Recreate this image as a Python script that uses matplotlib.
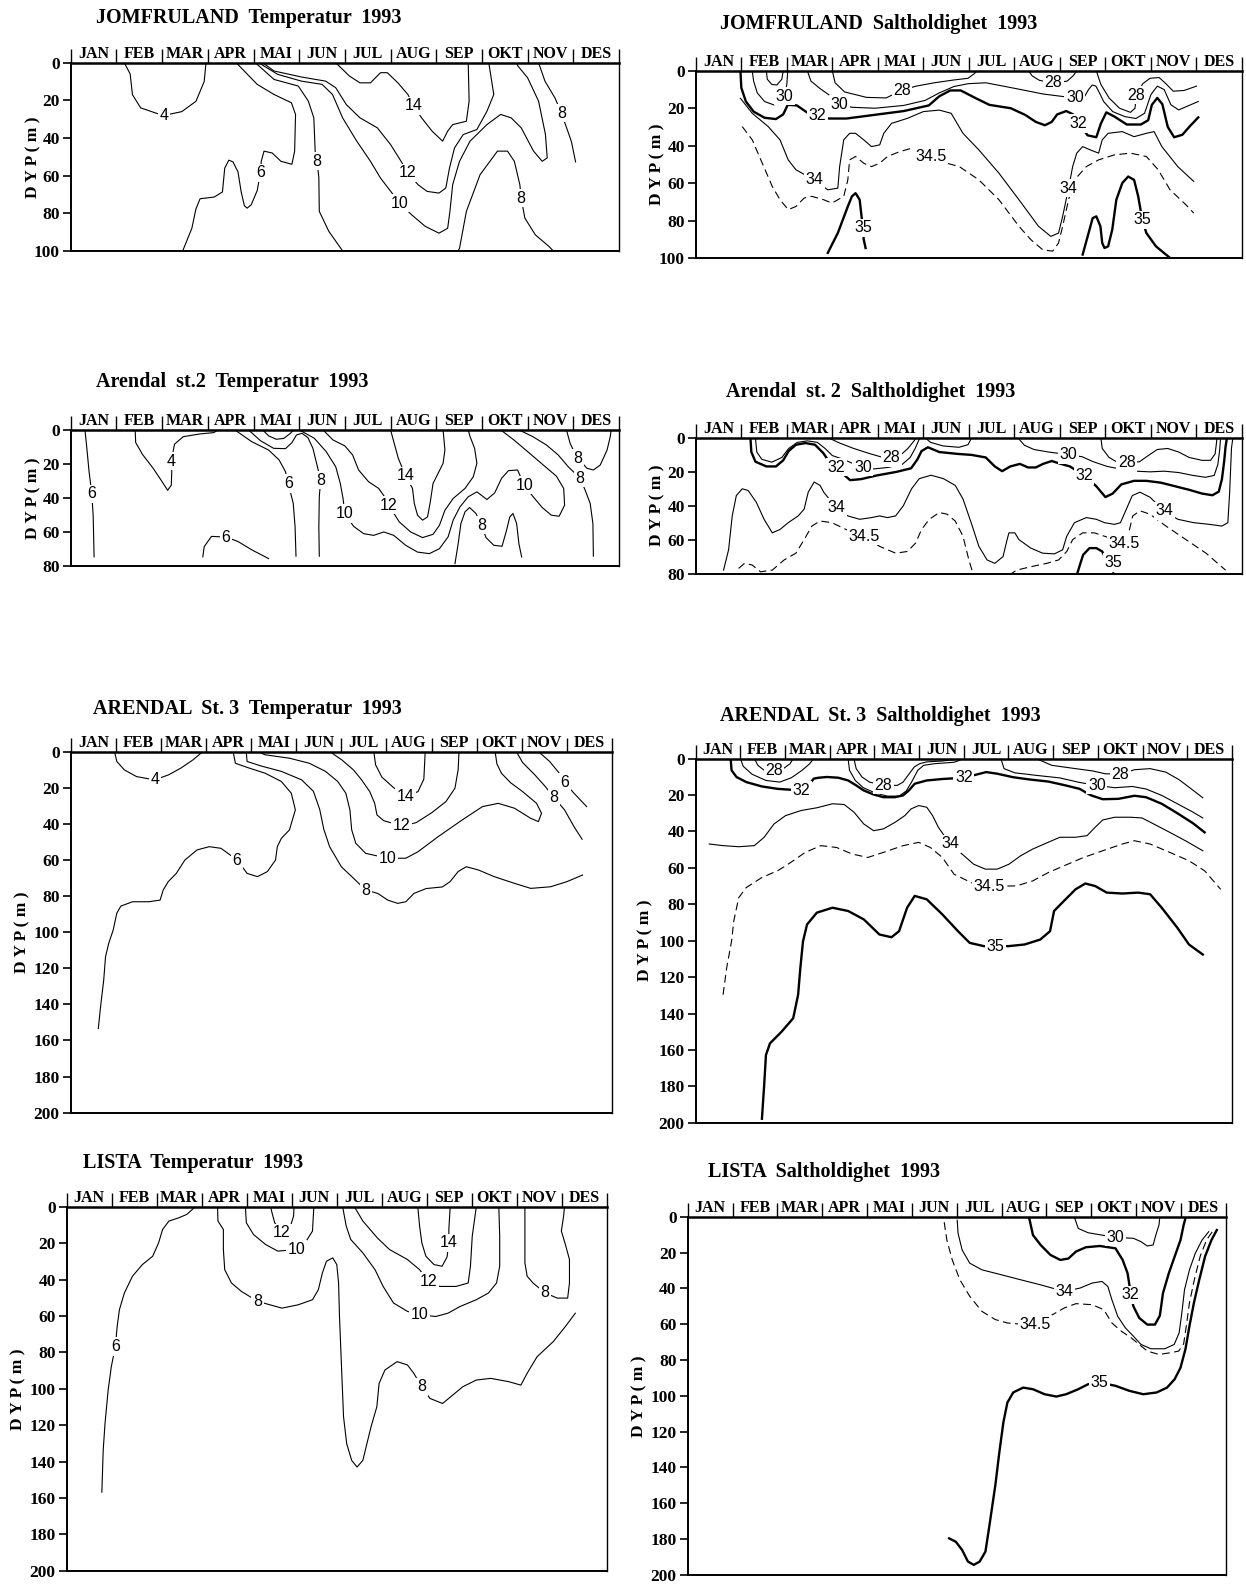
import matplotlib
matplotlib.use("Agg")
import matplotlib.pyplot as plt
import numpy as np

MONTHS = ["JAN", "FEB", "MAR", "APR", "MAI", "JUN", "JUL", "AUG", "SEP", "OKT", "NOV", "DES"]

# ---------------- Panel 1: JOMFRULAND Temperatur (m = month 0..12, d = depth m) -------------
JT_4_m = [1.17, 1.30, 1.35, 1.53, 1.89, 2.04, 2.43, 2.74, 2.92, 2.96]
JT_4_d = [0, 6, 17, 24, 27, 28, 26, 20.5, 10, 0]
JT_6_m = [2.45, 2.65, 2.74, 2.83, 3.14, 3.32, 3.37, 3.46, 3.55, 3.66, 3.73, 3.80, 3.86, 3.95, 4.08,
          4.15, 4.17, 4.23, 4.41, 4.60, 4.84, 4.90, 4.92, 4.83, 4.45, 4.08, 3.62]
JT_6_d = [100, 88, 77.7, 72.3, 71.4, 68.7, 56, 51.8, 52.7, 58, 68.7, 76, 77.3, 75.5, 68,
          58.6, 52.4, 47, 48, 52.4, 54, 47, 27.5, 21.3, 16.9, 11.5, 0]
JT_8a_m = [4.04, 4.45, 4.98, 5.2, 5.32, 5.35, 5.39, 5.43, 5.44, 5.65, 5.95]
JT_8a_d = [0, 8.9, 12.4, 20.4, 29.3, 47, 52.4, 61, 79, 89.7, 100]
JT_10_m = [4.11, 4.53, 5.05, 5.5, 5.73, 5.95, 6.26, 6.56, 6.78, 7.2, 7.46, 7.76, 8.06, 8.25, 8.3,
           8.36, 8.51, 8.74, 9.11, 9.41, 9.64, 9.86, 10.13, 10.32, 10.43, 10.39, 10.24, 10.0, 9.79, 9.75]
JT_10_d = [0, 6.2, 9.8, 11.5, 16.9, 29.3, 41.7, 52.4, 61.3, 74.6, 80.8, 87, 90.6, 88, 79,
           64.8, 52.4, 41.7, 32.9, 27.5, 29.3, 34.6, 47, 52.4, 50.6, 38, 20.4, 8, 1.8, 0]
JT_12_m = [4.2, 4.45, 5.05, 5.58, 5.8, 6.03, 6.33, 6.71, 7.0, 7.23, 7.38, 7.6, 7.8, 8.06, 8.21,
           8.29, 8.4, 8.59, 8.89, 9.11, 9.26, 9.15]
JT_12_d = [0, 4.4, 7.6, 9.8, 13.3, 22.2, 29.3, 34.6, 43.5, 52.4, 58.6, 64.8, 68.4, 69.3, 66.6,
           56, 45.3, 38.2, 35.5, 25.8, 16.9, 0]
JT_14_m = [5.8, 6.1, 6.33, 6.56, 6.78, 6.93, 7.16, 7.38, 7.5, 7.68, 7.91, 8.14, 8.25, 8.36, 8.66, 8.72, 8.7]
JT_14_d = [0, 7.1, 10.7, 10.7, 5.3, 5.3, 10.7, 16.9, 23, 29.3, 36.4, 41.7, 36.4, 32.9, 31.1, 20.4, 0]
JT_8b_m = [8.48, 8.51, 8.66, 8.96, 9.34, 9.56, 9.71, 9.83, 9.86, 9.94, 10.17, 10.47, 10.56]
JT_8b_d = [100, 98.6, 79, 59.5, 47, 47, 52.4, 64.8, 72, 82.6, 91.5, 97.7, 100]
JT_8c_m = [10.24, 10.38, 10.6, 10.74, 10.87, 10.96, 11.05]
JT_8c_d = [0, 9.8, 18.75, 26.8, 35.7, 42, 52.7]
JT_LABELS = [("4", 2.04, 28), ("6", 4.15, 58.6), ("8", 5.39, 52.4), ("10", 7.2, 74.6),
             ("12", 7.38, 58.6), ("14", 7.5, 23), ("8", 9.86, 72), ("8", 10.74, 26.8)]

# ---------------- Panel 2: JOMFRULAND Saltholdighet ----------------
JS_28a_m = [1.55, 1.57, 1.67, 1.78, 1.89, 1.92]
JS_28a_d = [0, 4.5, 7.3, 7.6, 4.5, 0]
JS_30a_m = [1.24, 1.27, 1.35, 1.51, 1.71, 1.86, 1.94, 2.0, 2.02]
JS_30a_d = [0, 5.5, 11.8, 16.4, 18.2, 17.3, 13.6, 7.3, 0]
JS_32_m = [0.98, 1.0, 1.1, 1.27, 1.51, 1.76, 1.92, 2.02, 2.22, 2.44, 2.67, 2.92, 3.31, 3.94, 4.57,
           5.12, 5.35, 5.59, 5.82, 6.14, 6.45, 6.92, 7.24, 7.47, 7.67, 7.82, 7.94, 8.14, 8.29, 8.41,
           8.61, 8.8, 8.9, 9.02, 9.2, 9.47, 9.78, 9.94, 10.02, 10.14, 10.25, 10.37, 10.51, 10.69, 10.86, 11.04]
JS_32_d = [0, 9.1, 16.4, 21.8, 25.1, 25.8, 23.3, 18.2, 18.5, 22.2, 24, 25.5, 25.5, 23.5, 21.5,
           18.5, 13.6, 10.5, 10.5, 14.5, 18.2, 20, 23.6, 27.3, 29.1, 27.3, 23.3, 21.5, 23.3, 28.2,
           34.5, 35.5, 28.2, 22.2, 24.5, 28.7, 28.7, 26.4, 18.2, 14.5, 17.8, 30, 35.5, 34.2, 29.5, 24.9]
JS_30b_m = [2.45, 2.53, 2.73, 2.94, 3.16, 3.43, 3.94, 4.57, 5.04, 5.35, 5.67, 5.98, 6.37, 6.76, 7.24,
            7.63, 8.02, 8.33, 8.53, 8.63, 8.71, 8.79, 8.87, 8.96, 9.16, 9.43, 9.67, 9.86, 10.0, 10.14,
            10.29, 10.44, 10.61, 10.84, 11.04]
JS_30b_d = [0, 5.5, 9.5, 13.1, 17.8, 19.5, 20, 18.5, 15.8, 11.8, 8.4, 6.9, 6.4, 8.2, 10.5,
            12.4, 13.6, 14.5, 14.2, 10, 7.6, 8.2, 11.8, 16.4, 21.8, 24.5, 25.5, 22.7, 12.7, 8.2,
            10, 18.2, 20.9, 18.5, 16.4]
JS_28b_m = [3.0, 3.06, 3.27, 3.75, 4.18, 4.53, 4.84, 5.24, 5.67, 5.98, 6.12, 6.18]
JS_28b_d = [0, 6.4, 11.3, 14.2, 14.5, 10.4, 8.2, 6.4, 4.9, 4, 1.5, 0]
JS_28c_m = [7.31, 7.39, 7.55, 7.86, 8.16, 8.29, 8.37]
JS_28c_d = [0, 2.7, 5.1, 6.5, 5.5, 2.7, 0]
JS_28d_m = [8.8, 8.9, 9.08, 9.31, 9.55, 9.65, 9.68, 9.82, 9.98, 10.18, 10.33, 10.49, 10.73, 11.0]
JS_28d_d = [0, 7.3, 14.5, 20, 22.2, 20, 13.1, 6.9, 4, 3.6, 6.9, 10.9, 10.5, 8.2]
JS_34_m = [0.98, 1.24, 1.59, 1.85, 2.03, 2.2, 2.6, 2.9, 3.12, 3.16, 3.25, 3.38, 3.51, 3.69, 3.86,
           4.04, 4.13, 4.3, 4.65, 5.0, 5.35, 5.61, 5.87, 6.22, 6.66, 7.1, 7.53, 7.8, 7.97, 8.06,
           8.19, 8.28, 8.37, 8.5, 8.67, 8.85, 8.93, 9.06, 9.37, 9.63, 9.9, 10.07, 10.24, 10.59, 10.94]
JS_34_d = [14.7, 22.7, 29.8, 36.9, 47.6, 52.9, 58.3, 63.6, 62.7, 51.2, 36.9, 33.4, 33.4, 36.9, 40.5,
           39.6, 33.4, 28.1, 25.4, 21.8, 21, 22.7, 33.4, 42.3, 54.7, 68.9, 83.1, 88.5, 86.7, 77.8,
           62.7, 51.2, 44, 40.5, 42.3, 44, 36.9, 33.4, 32.5, 35.2, 33.4, 32.5, 40.5, 51.2, 59.1]
JS_345_m = [1.02, 1.24, 1.46, 1.68, 1.85, 2.03, 2.2, 2.38, 2.55, 2.81, 2.99, 3.25, 3.34, 3.38, 3.51,
            3.69, 3.86, 4.04, 4.21, 4.48, 4.74, 5.17, 5.52, 5.79, 6.22, 6.66, 7.1, 7.36, 7.62, 7.84,
            7.97, 8.06, 8.19, 8.32, 8.58, 8.85, 9.2, 9.55, 9.9, 10.16, 10.42, 10.77, 10.94]
JS_345_d = [29.8, 36.9, 49.4, 61.8, 68.9, 74.2, 72.5, 68, 67.1, 68.9, 70.7, 67.1, 58.3, 47.6, 45.8,
            49.4, 51.2, 49.4, 45.8, 43.2, 41.4, 45.8, 49.4, 51.2, 58.3, 68.9, 83.1, 90.2, 95.6, 96.4,
            92, 83.1, 68.9, 58.3, 51.2, 47.6, 44.9, 44, 45.8, 52.9, 63.6, 71.6, 76]
JS_35a_m = [2.9, 3.12, 3.34, 3.43, 3.51, 3.6, 3.65, 3.69, 3.73]
JS_35a_d = [97.3, 86.7, 72.5, 67.1, 65.4, 68.9, 79.6, 90.2, 94.7]
JS_35b_m = [8.5, 8.63, 8.72, 8.8, 8.89, 8.93, 8.98, 9.06, 9.15, 9.24, 9.37, 9.5, 9.63, 9.72, 9.81, 9.9, 10.11, 10.42]
JS_35b_d = [98.2, 86.7, 78.7, 77.8, 83.1, 92, 94.7, 93.8, 84.9, 68.9, 60, 56.5, 58.3, 67.1, 79.6, 86.7, 93.8, 100]
JS_LABELS = [("30", 1.94, 13.6), ("32", 2.67, 24), ("30", 3.16, 17.8), ("28", 4.53, 10.4),
             ("34.5", 5.17, 45.8), ("34", 2.6, 58.3), ("35", 3.67, 84), ("28", 7.86, 6.5),
             ("30", 8.33, 14.5), ("32", 8.41, 28.2), ("28", 9.68, 13.1), ("34", 8.19, 62.7),
             ("35", 9.81, 79.6)]

# ---------------- Panel 3: Arendal st.2 Temperatur ----------------
A2T_6a_m = [0.31, 0.35, 0.4, 0.46, 0.49, 0.51]
A2T_6a_d = [0, 10.4, 24.4, 37.4, 50.4, 74.4]
A2T_4_m = [1.41, 1.42, 1.57, 1.8, 2.0, 2.12, 2.2, 2.21, 2.2, 2.27, 2.46, 2.82, 3.13, 3.22]
A2T_4_d = [0, 7.4, 14.4, 22.4, 30.4, 35.4, 32.4, 24.4, 18.4, 8.4, 4, 2.4, 1.6, 0]
A2T_6b_m = [2.89, 2.92, 3.08, 3.4, 3.66, 3.97, 4.33]
A2T_6b_d = [74.4, 68.4, 62.4, 62.8, 65.4, 70.4, 75.4]
A2T_6c_m = [3.59, 3.96, 4.33, 4.56, 4.7, 4.76, 4.87, 4.91, 4.93]
A2T_6c_d = [0, 6.9, 11.8, 17.6, 24.5, 31.4, 43.1, 56.9, 74]
A2T_8s_m = [4.2, 4.33, 4.5, 4.66, 4.8, 4.88]
A2T_8s_d = [0, 3.5, 5.5, 5, 2.2, 0]
A2T_8a_m = [3.89, 4.15, 4.44, 4.7, 4.84, 4.94, 5.06, 5.19, 5.3, 5.39, 5.47, 5.44, 5.43, 5.44]
A2T_8a_d = [0, 6.3, 10.8, 11, 7.5, 3, 2, 4.5, 10.8, 20.6, 29.4, 39.2, 56.9, 74]
A2T_10_m = [5.0, 5.33, 5.59, 5.8, 5.9, 5.96, 6.0, 6.19, 6.41, 6.63, 6.85, 7.07, 7.33, 7.59, 7.85,
            8.07, 8.26, 8.37, 8.52, 8.7, 8.89, 9.11, 9.28, 9.43, 9.58, 9.78, 9.93, 10.11, 10.32, 10.52,
            10.69, 10.81, 10.79, 10.63, 10.3, 10.0, 9.7, 9.41]
A2T_10_d = [0, 4.9, 12.7, 21.6, 31.4, 40.2, 49, 56.5, 60.8, 61.8, 59.8, 61.8, 67.6, 71.6, 72.5,
            69.6, 62.7, 52.9, 45.1, 39.2, 36.3, 40.8, 36.9, 28.4, 23.9, 23.5, 32.4, 38.8, 45.5, 50,
            50.6, 44.1, 34.3, 27.1, 19.6, 12.7, 5.9, 0]
A2T_12_m = [5.52, 5.74, 6.0, 6.17, 6.3, 6.52, 6.74, 6.87, 6.96, 7.19, 7.44, 7.7, 7.93, 8.07, 8.19,
            8.37, 8.63, 8.81, 8.89, 8.84, 8.74, 8.7]
A2T_12_d = [0, 5.9, 9.4, 14.7, 23.5, 30.4, 34.3, 39.2, 44.1, 53.9, 59.8, 63.1, 61.2, 55.9, 47.1,
            40.2, 34.3, 27.5, 19.6, 10.8, 3.9, 0]
A2T_14_m = [7.0, 7.07, 7.17, 7.33, 7.48, 7.52, 7.59, 7.7, 7.81, 7.87, 7.93, 8.04, 8.15, 8.19, 8.15]
A2T_14_d = [0, 6.9, 16.7, 27, 34.3, 43.1, 50, 52.9, 51, 42.2, 31.4, 25.5, 19.6, 11.8, 0]
A2T_8b_m = [8.41, 8.48, 8.54, 8.63, 8.73, 8.87, 8.99, 9.09, 9.26, 9.44, 9.54, 9.61, 9.68, 9.76, 9.81, 9.87]
A2T_8b_d = [78.4, 66.7, 54.9, 48, 45.5, 49, 55.9, 63.1, 67.6, 68.2, 58.8, 51, 49, 54.9, 66.7, 74.5]
A2T_8c_m = [10.85, 10.93, 11.0, 11.1, 11.3, 11.44, 11.59, 11.74, 11.81, 11.83]
A2T_8c_d = [0, 7.8, 11.8, 16.7, 22.5, 23.5, 20.6, 11.8, 3.9, 0]
A2T_8d_m = [9.81, 10.11, 10.41, 10.67, 10.89, 11.04, 11.15, 11.26, 11.37, 11.43, 11.44]
A2T_8d_d = [0, 3.9, 8.8, 14.7, 21.6, 25.5, 28.4, 35.3, 43.1, 54.9, 74]
A2T_LABELS = [("6", 0.46, 37.4), ("4", 2.2, 18.4), ("6", 3.4, 62.8), ("6", 4.76, 31.4),
              ("8", 5.47, 29.4), ("10", 6.0, 49), ("12", 6.96, 44.1), ("14", 7.33, 27),
              ("8", 8.99, 55.9), ("10", 9.93, 32.4), ("8", 11.1, 16.7), ("8", 11.15, 28.4)]

# ---------------- Panel 4: Arendal st.2 Saltholdighet ----------------
A2S_32_m = [1.2, 1.22, 1.31, 1.55, 1.76, 1.92, 2.04, 2.2, 2.41, 2.62, 2.8, 2.92, 3.09, 3.27, 3.39,
            3.63, 3.98, 4.41, 4.73, 4.87, 4.96, 5.1, 5.35, 5.75, 6.06, 6.37, 6.57, 6.73, 6.91, 7.12,
            7.3, 7.47, 7.63, 7.82, 8.02, 8.22, 8.53, 8.8, 9.0, 9.16, 9.35, 9.63, 9.9, 10.22, 10.53,
            10.84, 11.12, 11.35, 11.49, 11.56, 11.61, 11.64, 11.67]
A2S_32_d = [0, 8.3, 14, 16.8, 16.8, 13.2, 7.7, 4, 3, 4, 8.9, 13.6, 17.2, 22.1, 24.9,
            24.3, 22.1, 20, 17.9, 12.6, 7.7, 5.5, 8.3, 9.4, 10, 11.5, 16.8, 19.6, 16.8, 15.3,
            17.4, 17.4, 15.3, 13.6, 15.3, 16.8, 22.1, 28.5, 34.9, 32.8, 27.4, 25.3, 25.3, 26.4, 28.5,
            30.6, 32.8, 33.8, 31.7, 24.3, 13.6, 5.1, 0]
A2S_30a_m = [1.31, 1.34, 1.45, 1.67, 1.89, 2.04, 2.23, 2.45, 2.67, 2.84, 3.0, 3.24, 3.47, 3.67, 3.9,
             4.22, 4.53, 4.71, 4.82, 4.92]
A2S_30a_d = [0, 8.3, 12.6, 14.3, 11.5, 6.2, 2.6, 1.7, 2.6, 6.2, 10.4, 12.6, 15.3, 17.2, 18.3,
             17.4, 15.7, 11.5, 6.2, 0]
A2S_28a_m = [2.92, 3.16, 3.47, 3.78, 4.06, 4.29, 4.51, 4.66, 4.79, 4.84]
A2S_28a_d = [0, 3, 6.2, 8.9, 11.1, 11.5, 9.8, 6.2, 1.9, 0]
A2S_30s_m = [5.04, 5.16, 5.43, 5.78, 5.98, 6.06]
A2S_30s_d = [0, 2.6, 4.7, 5.5, 4, 0]
A2S_30b_m = [7.08, 7.22, 7.43, 7.75, 8.18, 8.49, 8.73, 9.04, 9.35, 9.67, 9.98, 10.29, 10.61, 10.92,
             11.2, 11.39, 11.47, 11.51, 11.53]
A2S_30b_d = [0, 4.3, 6.8, 8.3, 9.8, 11.1, 14, 16.8, 18.5, 19.6, 20, 19.6, 20.4, 22.1,
             23.2, 22.1, 15.7, 7.2, 0]
A2S_28b_m = [8.9, 8.93, 9.08, 9.24, 9.47, 9.75, 9.94, 10.14, 10.37, 10.61, 10.84, 11.12, 11.31, 11.41, 11.44, 11.45]
A2S_28b_d = [0, 6.2, 11.5, 14, 14.7, 14, 10.4, 6.8, 6.2, 8.3, 11.5, 13.2, 13.2, 9.4, 3, 0]
A2S_34_m = [0.61, 0.72, 0.8, 0.89, 1.02, 1.15, 1.33, 1.5, 1.68, 1.85, 2.03, 2.25, 2.38, 2.47, 2.6,
            2.73, 2.81, 3.08, 3.34, 3.6, 3.86, 4.04, 4.21, 4.39, 4.56, 4.74, 4.91, 5.17, 5.44, 5.7,
            5.87, 6.05, 6.22, 6.4, 6.57, 6.75, 6.84, 6.88, 7.01, 7.1, 7.36, 7.62, 7.88, 8.06, 8.15,
            8.32, 8.58, 8.8, 8.98, 9.2, 9.33, 9.46, 9.59, 9.76, 9.98, 10.29, 10.59, 10.94, 11.29, 11.56,
            11.69, 11.73, 11.77, 11.8]
A2S_34_d = [78, 66, 46, 34, 30, 31, 38, 48, 56, 54, 50, 46, 42, 32, 26,
            28, 32, 41, 46, 48, 47, 46, 47, 46, 40, 30, 24, 22, 24, 28,
            36, 50, 64, 72, 74, 70, 60, 56, 56, 60, 65, 68, 68.4, 66, 58,
            50, 47, 48, 50, 51, 50, 42, 34, 32, 35, 43, 48, 50, 51, 52,
            50, 32, 6, 0]
A2S_345a_m = [0.94, 1.07, 1.24, 1.42, 1.68, 1.94, 2.2, 2.38, 2.55, 2.73, 2.99, 3.3, 3.69, 4.04, 4.39,
              4.65, 4.83, 4.96, 5.13, 5.35, 5.52, 5.7, 5.87, 6.0, 6.09]
A2S_345a_d = [77, 74, 75, 79, 78, 72, 68, 60, 52, 49, 50, 54, 58, 64, 68,
              67, 62, 54, 48, 44, 45, 49, 58, 72, 80]
A2S_345b_m = [6.88, 7.05, 7.36, 7.71, 7.97, 8.15, 8.28, 8.5, 8.76, 8.98, 9.2, 9.42, 9.52, 9.6, 9.76,
              9.98, 10.33, 10.77, 11.21, 11.64]
A2S_345b_d = [81, 78, 76, 74, 72, 67, 60, 56, 56, 58, 60, 62, 55, 46, 43,
              45, 52, 60, 68, 78]
A2S_35_m = [8.37, 8.45, 8.51, 8.65, 8.8, 8.93, 9.0]
A2S_35_d = [81, 74, 69, 65, 65, 67, 71]
A2S_35t_m = [9.15, 9.25]
A2S_35t_d = [79.0, 81.0]
A2S_LABELS = [("32", 3.09, 17.2), ("30", 3.67, 17.2), ("28", 4.29, 11.5), ("34", 3.08, 41),
              ("34.5", 3.69, 58), ("30", 8.18, 9.8), ("28", 9.47, 14.7), ("32", 8.53, 22.1),
              ("34", 10.29, 43), ("34.5", 9.42, 62), ("35", 9.17, 73.5)]

# ---------------- Panel 5: ARENDAL St.3 Temperatur ----------------
A3T_4_m = [0.97, 1.02, 1.19, 1.46, 1.86, 2.17, 2.44, 2.71, 2.93]
A3T_4_d = [0, 5.5, 10.2, 13.9, 15.7, 12.9, 9.2, 4.6, 0]
A3T_6_m = [0.61, 0.66, 0.73, 0.77, 0.84, 0.94, 1.02, 1.11, 1.37, 1.73, 1.98, 2.05, 2.16, 2.34, 2.53,
           2.8, 3.07, 3.33, 3.69, 3.91, 4.14, 4.36, 4.54, 4.58, 4.67, 4.85, 4.98, 4.89, 4.67, 4.31,
           3.96, 3.65, 3.6]
A3T_6_d = [153.4, 141.4, 126.6, 113.7, 106.3, 98.9, 89.6, 85.6, 83.2, 83.2, 82.3, 76.7, 72.1, 67.5, 60.1,
           54.5, 52.7, 53.6, 60.1, 67.5, 69.3, 66.5, 60.1, 52.7, 48.1, 43.4, 32.3, 23.1, 16.6, 12,
           9.2, 6.5, 0]
A3T_8_m = [3.89, 3.91, 4.22, 4.67, 5.12, 5.38, 5.52, 5.61, 5.74, 6.0, 6.27, 6.54, 6.81, 7.03, 7.25,
           7.43, 7.61, 7.88, 8.24, 8.41, 8.59, 8.77, 9.04, 9.39, 9.84, 10.2, 10.64, 11.0, 11.35]
A3T_8_d = [0, 5.5, 8, 11, 15.7, 22, 32, 43, 52.7, 63.8, 70.2, 76.7, 78.6, 82.3, 84.1,
           83.2, 78.6, 75.9, 75, 72.1, 66.5, 63.8, 65.6, 69.3, 73, 75.8, 74.9, 72.1, 68.4]
A3T_10_m = [4.14, 4.31, 4.85, 5.29, 5.65, 5.92, 6.1, 6.19, 6.23, 6.32, 6.54, 7.03, 7.43, 7.7, 8.15,
            8.68, 9.13, 9.48, 9.84, 10.2, 10.37, 10.44, 10.33, 10.02, 9.75, 9.55, 9.45, 9.41]
A3T_10_d = [0, 1.8, 3.7, 6.5, 11, 16.6, 23.1, 32.3, 43.4, 50.8, 56.4, 59.1, 59.1, 55.5, 47.1,
            37.9, 30.5, 28.7, 31.4, 37, 38.8, 34.2, 28.7, 22.2, 17.2, 12, 6.8, 0]
A3T_12_m = [5.74, 6.01, 6.27, 6.45, 6.63, 6.74, 6.79, 6.94, 7.34, 7.66, 8.01, 8.32, 8.52, 8.59, 8.61]
A3T_12_d = [0, 4.6, 10.2, 15.7, 22.2, 28.7, 35.1, 38.3, 41.2, 39.4, 33.8, 27.7, 20.3, 10.2, 0]
A3T_14_m = [6.72, 6.76, 6.9, 7.15, 7.42, 7.7, 7.83, 7.86]
A3T_14_d = [0, 7.4, 14.2, 19.8, 25, 22.2, 15.3, 0]
A3T_8b_m = [9.88, 10.02, 10.29, 10.51, 10.71, 10.95, 11.16, 11.34]
A3T_8b_d = [0, 6.1, 12.9, 19, 25.3, 32.3, 41.6, 48.6]
A3T_6b_m = [10.37, 10.62, 10.82, 10.95, 11.16, 11.44]
A3T_6b_d = [0, 5.5, 11.6, 17.2, 23.1, 30.5]
A3T_LABELS = [("4", 1.86, 15.7), ("6", 3.69, 60.1), ("8", 6.54, 76.7), ("10", 7.03, 59.1),
              ("12", 7.34, 41.2), ("14", 7.42, 25), ("8", 10.71, 25.3), ("6", 10.95, 17.2)]

# ---------------- Panel 6: ARENDAL St.3 Saltholdighet ----------------
A3S_32_m = [0.78, 0.8, 0.91, 1.13, 1.48, 1.83, 2.36, 2.58, 2.64, 2.75, 2.93, 3.19, 3.41, 3.59, 3.76,
            3.98, 4.2, 4.46, 4.64, 4.77, 4.9, 5.17, 5.52, 6.0, 6.31, 6.5, 6.75, 7.1, 7.45, 7.89,
            8.24, 8.59, 8.85, 9.11, 9.46, 9.82, 10.08, 10.43, 10.78, 11.13, 11.39]
A3S_32_d = [0, 6.4, 10.1, 12.9, 15.3, 16.6, 17.5, 12.9, 11, 10.5, 10.1, 10.5, 12, 14.7, 17.5,
            19.7, 21.2, 21.2, 20.2, 17.5, 13.8, 12, 11.2, 10.5, 8.6, 7.4, 8.3, 10.2, 11.4, 12.6,
            14.5, 16.6, 20.2, 22.3, 22.1, 20.4, 21.2, 24.8, 30, 35.5, 40.5]
A3S_30a_m = [1.0, 1.06, 1.26, 1.57, 1.88, 2.14, 2.38, 2.55, 2.64]
A3S_30a_d = [0, 4.2, 8.6, 12, 12.9, 10.5, 6.4, 2.8, 0]
A3S_28a_m = [1.31, 1.39, 1.53, 1.75, 1.96, 2.11, 2.18]
A3S_28a_d = [0, 3.7, 6.4, 6.4, 5.5, 2.8, 0]
A3S_28b_m = [3.54, 3.59, 3.72, 3.89, 4.2, 4.51, 4.64, 4.75, 4.89, 5.01, 5.17, 5.52, 5.78, 5.85]
A3S_28b_d = [0, 5.5, 10.1, 12.9, 14.7, 14.7, 12.9, 9.2, 4.6, 2.8, 1.8, 1.3, 0.6, 0]
A3S_30b_m = [3.41, 3.44, 3.57, 3.75, 4.03, 4.29, 4.55, 4.71, 4.83, 4.97, 5.1, 5.34, 5.78, 5.91, 5.96]
A3S_30b_d = [0, 6.4, 12, 16, 19, 20.6, 20.6, 17.8, 12.9, 6.4, 3.7, 2.8, 2, 0.9, 0]
A3S_30c_m = [6.83, 6.9, 7.14, 7.62, 8.15, 8.59, 8.98, 9.38, 9.77, 10.08, 10.43, 10.78, 11.13, 11.35]
A3S_30c_d = [0, 5.5, 7.8, 9.2, 10.6, 13.1, 14.7, 16, 15.3, 16.7, 20.2, 24.8, 29.4, 32.6]
A3S_28c_m = [7.62, 7.97, 8.5, 8.89, 9.16, 9.51, 9.82, 10.17, 10.52, 10.82, 11.09, 11.35]
A3S_28c_d = [0, 3.7, 5.5, 6.8, 8.3, 8.6, 6.1, 5.5, 7.4, 11.6, 16.6, 21.5]
A3S_34_m = [0.3, 0.61, 0.96, 1.31, 1.53, 1.75, 2.01, 2.36, 2.71, 3.06, 3.32, 3.54, 3.76, 3.98, 4.2,
            4.46, 4.68, 4.82, 4.99, 5.17, 5.3, 5.43, 5.69, 5.96, 6.22, 6.48, 6.75, 7.01, 7.27, 7.54,
            7.8, 8.15, 8.5, 8.76, 8.94, 9.11, 9.38, 9.73, 9.99, 10.25, 10.61, 10.96, 11.35]
A3S_34_d = [46.9, 47.8, 48.4, 47.8, 43.2, 35.9, 31.3, 28.5, 27, 24.8, 25.2, 29.4, 35.9, 39.6, 38.6,
            35, 31.3, 27.6, 25.8, 26.7, 31.3, 37.7, 46.9, 52.4, 58, 60.7, 60.7, 58, 53.4, 49.7,
            46.9, 43.2, 43.2, 42.3, 37.7, 33.7, 32.2, 32.2, 32.6, 35.9, 40.5, 45.1, 50.6]
A3S_345_m = [0.61, 0.69, 0.8, 0.85, 0.96, 1.13, 1.48, 1.83, 2.01, 2.18, 2.45, 2.8, 3.15, 3.5, 3.85,
             4.2, 4.64, 4.99, 5.25, 5.52, 5.78, 6.2, 6.57, 6.95, 7.18, 7.54, 7.89, 8.24, 8.68, 9.11,
             9.55, 9.82, 10.17, 10.61, 11.04, 11.39, 11.75]
A3S_345_d = [129.7, 115, 100.3, 89.2, 76.4, 70.8, 65.3, 61.6, 58.9, 56.1, 51.5, 47.8, 48.8, 52.4, 54.3,
             51.5, 47.8, 46, 48.8, 54.3, 63.5, 68.5, 70, 70, 69.9, 67.2, 62.6, 58.9, 54.3, 50.6,
             46.9, 45.1, 46.9, 51.5, 56.1, 61.6, 71.8]
A3S_35_m = [1.48, 1.53, 1.57, 1.66, 1.92, 2.18, 2.29, 2.34, 2.4, 2.49, 2.71, 3.06, 3.41, 3.76, 4.11,
            4.38, 4.55, 4.73, 4.9, 5.17, 5.52, 5.87, 6.13, 6.45, 6.7, 7.0, 7.36, 7.71, 7.93, 8.02,
            8.24, 8.5, 8.72, 8.94, 9.2, 9.55, 9.9, 10.17, 10.43, 10.78, 11.04, 11.35]
A3S_35_d = [197.8, 179.4, 162.8, 156.4, 150, 142.6, 129.7, 115, 100.3, 91.1, 84.6, 81.9, 83.7, 88.3, 96.6,
            98.1, 94.8, 81.9, 75.4, 77.3, 85.6, 94.8, 101.2, 103, 103, 103, 102.1, 99.4, 94.8, 83.7,
            78.2, 71.8, 68.6, 70, 73.6, 74.1, 73.6, 74.5, 81.9, 92.9, 102.1, 107.6]
A3S_LABELS = [("28", 1.75, 6.4), ("32", 2.36, 17.5), ("28", 4.2, 14.7), ("32", 6.0, 10.5),
              ("34", 5.69, 46.9), ("34.5", 6.57, 70), ("35", 6.7, 103), ("30", 8.98, 14.7),
              ("28", 9.51, 8.6)]

# ---------------- Panel 7: LISTA Temperatur ----------------
LT_6_m = [0.78, 0.81, 0.85, 0.92, 0.99, 1.08, 1.12, 1.17, 1.28, 1.46, 1.68, 1.91, 2.04, 2.13, 2.27,
          2.49, 2.67, 2.79, 2.85]
LT_6_d = [156.8, 133.8, 119.1, 100.7, 87.9, 76.8, 65.8, 56.6, 47.4, 38.2, 31.8, 27.2, 19.9, 12.5, 7.9,
          6.1, 4.2, 1.5, 0]
LT_8_m = [3.35, 3.36, 3.48, 3.48, 3.51, 3.66, 3.88, 4.24, 4.78, 5.14, 5.46, 5.59, 5.68, 5.77, 5.91,
          6.0, 6.04, 6.06, 6.09, 6.12, 6.15, 6.22, 6.33, 6.45, 6.58, 6.67, 6.76, 6.89, 6.94, 7.07,
          7.34, 7.57, 7.71, 7.89, 8.07, 8.35, 8.53, 8.8, 9.1, 9.42, 9.82, 10.09, 10.23, 10.45, 10.81,
          11.08, 11.3]
LT_8_d = [0, 7.9, 12.5, 23.5, 34.6, 41.9, 46.5, 52, 55.7, 53.9, 51.1, 45.6, 36.4, 30, 28.1,
          31.8, 41.9, 60.3, 78.7, 97.1, 115.4, 130.1, 139.3, 143, 139.3, 130.1, 121, 109.9, 97.1, 89.7,
          85.1, 86.9, 91.5, 98.9, 105.3, 108.1, 104.4, 98.9, 95.2, 94.3, 96.1, 98, 91.5, 82.4, 74.1,
          65.8, 58.5]
LT_10a_m = [3.97, 3.99, 4.15, 4.42, 4.69, 5.1, 5.32, 5.46, 5.49]
LT_10a_d = [0, 8.8, 15.3, 20.8, 24.4, 23.5, 18.9, 13.4, 0]
LT_12a_m = [4.53, 4.56, 4.62, 4.78, 4.96, 5.04, 5.05]
LT_12a_d = [0, 3.3, 8.8, 14.3, 11.6, 5.1, 0]
LT_12b_m = [6.39, 6.58, 6.9, 7.17, 7.57, 7.84, 8.04, 8.29, 8.65, 8.92, 8.97, 9.01, 9.1]
LT_12b_d = [0, 7.9, 17.1, 23.5, 29, 34.6, 41, 43.8, 43.8, 41.9, 32.7, 16.2, 0]
LT_10b_m = [6.13, 6.21, 6.31, 6.58, 6.85, 7.03, 7.26, 7.57, 7.84, 8.2, 8.47, 8.74, 9.1, 9.37, 9.55,
            9.62, 9.62, 9.6]
LT_10b_d = [0, 10.7, 18, 25.4, 34.6, 43.8, 52.9, 57.5, 59.4, 60.3, 58.5, 54.8, 51.1, 47.4, 41.9,
            32.7, 16.2, 0]
LT_14_m = [7.8, 7.84, 7.89, 7.98, 8.16, 8.34, 8.45, 8.49, 8.49, 8.52]
LT_14_d = [0, 10.7, 19.9, 27.2, 31.8, 32.7, 27.6, 19.9, 12.5, 0]
LT_8b_m = [10.18, 10.18, 10.18, 10.23, 10.36, 10.63, 10.9, 11.13, 11.17, 11.17, 11.08, 10.99, 11.04, 11.06]
LT_8b_d = [0, 14.3, 30.9, 38.2, 41.9, 47.4, 50.2, 50.2, 41.9, 29, 20.8, 13.4, 5.1, 0]
LT_LABELS = [("6", 1.08, 76.8), ("8", 4.24, 52), ("10", 5.1, 23.5), ("12", 4.78, 14.3),
             ("12", 8.04, 41), ("10", 7.84, 59.4), ("14", 8.49, 19.9), ("8", 7.89, 98.9),
             ("8", 10.63, 47.4)]

# ---------------- Panel 8: LISTA Saltholdighet ----------------
LS_345_m = [5.72, 5.78, 5.9, 6.07, 6.29, 6.56, 6.86, 7.13, 7.45, 7.74, 8.14, 8.4, 8.66, 9.02, 9.28,
            9.46, 9.67, 9.89, 10.07, 10.25, 10.51, 10.77, 10.95, 11.06, 11.12, 11.19, 11.3, 11.43, 11.57, 11.7]
LS_345_d = [3, 13, 24.1, 35.2, 44.4, 52.8, 57.4, 59.3, 60, 60.2, 54.6, 50.9, 48.5, 49.1, 51.9,
            59.3, 63.9, 67.6, 71.3, 75, 76.9, 75.9, 75, 71, 61, 48, 35, 22, 13, 8.3]
LS_34_m = [6.01, 6.03, 6.12, 6.29, 6.56, 7.0, 7.43, 7.87, 8.4, 8.75, 9.02, 9.24, 9.37, 9.46, 9.59,
           9.76, 9.94, 10.11, 10.33, 10.64, 10.85, 10.96, 11.02, 11.08, 11.19, 11.32, 11.47, 11.62]
LS_34_d = [1.9, 9.3, 18.5, 25.9, 29.6, 32.4, 35.2, 38, 41.7, 39.8, 37, 36.1, 38.9, 46.3, 55.6,
           62, 66.7, 71.3, 73.7, 73.7, 71.3, 64.8, 53.7, 40.7, 29.6, 20.4, 13, 8.3]
LS_32_m = [7.61, 7.7, 7.87, 8.09, 8.31, 8.49, 8.66, 8.88, 9.19, 9.54, 9.7, 9.81, 9.85, 9.88, 9.94,
           10.07, 10.25, 10.42, 10.53, 10.6, 10.73, 10.86, 10.99, 11.06, 11.11]
LS_32_d = [0, 10.2, 15.7, 21.3, 24.1, 23.3, 19.4, 17, 16.3, 17.6, 24.1, 31.5, 38, 43.5, 50,
           56.5, 60.2, 60.2, 55.2, 42.6, 31.5, 22.2, 13, 4.6, 0]
LS_30_m = [8.62, 8.71, 8.93, 9.54, 9.94, 10.11, 10.25, 10.38, 10.44, 10.51, 10.53]
LS_30_d = [0, 6.5, 8.9, 11.5, 12, 13.9, 16.3, 15.7, 10.2, 4.6, 0]
LS_35_m = [5.83, 5.98, 6.12, 6.25, 6.38, 6.51, 6.64, 6.73, 6.86, 6.95, 7.04, 7.13, 7.26, 7.48, 7.7,
           7.96, 8.22, 8.44, 8.71, 8.93, 9.19, 9.54, 9.85, 10.16, 10.46, 10.69, 10.86, 10.99, 11.1, 11.19,
           11.29, 11.41, 11.54, 11.68, 11.8]
LS_35_d = [179.6, 181.5, 186.1, 192.6, 194.4, 192.6, 187, 172.2, 150, 131.5, 114.8, 103.7, 98.1, 95.4, 96.3,
           99.1, 100.4, 99.1, 96.3, 93.5, 92.6, 94.4, 97.2, 99.1, 98.1, 95.4, 90.7, 84.3, 74, 61,
           48, 35, 22, 13, 7.4]
LS_LABELS = [("34.5", 7.74, 60.2), ("34", 8.4, 41.7), ("32", 9.88, 43.5), ("30", 9.54, 11.5),
             ("35", 9.19, 92.6)]

# ---------------- layout / styling ----------------
SERIF = ["Liberation Serif", "DejaVu Serif"]
SANS = ["Liberation Sans Narrow", "Liberation Sans", "DejaVu Sans"]
REF_W, REF_H = 1232.0, 1568.0

PANELS = [
    dict(box=(70, 612, 62, 248), dmax=100, title="JOMFRULAND  Temperatur  1993", tpos=(95, 18), ylx=33,
         lines=[(JT_4_m, JT_4_d, "thin"), (JT_6_m, JT_6_d, "thin"), (JT_8a_m, JT_8a_d, "thin"),
                (JT_10_m, JT_10_d, "thin"), (JT_12_m, JT_12_d, "thin"), (JT_14_m, JT_14_d, "thin"),
                (JT_8b_m, JT_8b_d, "thin"), (JT_8c_m, JT_8c_d, "thin")],
         labels=JT_LABELS),
    dict(box=(688, 1228, 70, 255), dmax=100, title="JOMFRULAND  Saltholdighet  1993", tpos=(712, 24), ylx=650,
         lines=[(JS_28a_m, JS_28a_d, "thin"), (JS_30a_m, JS_30a_d, "thin"), (JS_32_m, JS_32_d, "thick"),
                (JS_30b_m, JS_30b_d, "thin"), (JS_28b_m, JS_28b_d, "thin"), (JS_28c_m, JS_28c_d, "thin"),
                (JS_28d_m, JS_28d_d, "thin"), (JS_34_m, JS_34_d, "thin"), (JS_345_m, JS_345_d, "dash"),
                (JS_35a_m, JS_35a_d, "thick"), (JS_35b_m, JS_35b_d, "thick")],
         labels=JS_LABELS),
    dict(box=(70, 612, 425, 560), dmax=80, title="Arendal  st.2  Temperatur  1993", tpos=(95, 378), ylx=33,
         lines=[(A2T_6a_m, A2T_6a_d, "thin"), (A2T_4_m, A2T_4_d, "thin"), (A2T_6b_m, A2T_6b_d, "thin"),
                (A2T_6c_m, A2T_6c_d, "thin"), (A2T_8s_m, A2T_8s_d, "thin"), (A2T_8a_m, A2T_8a_d, "thin"),
                (A2T_10_m, A2T_10_d, "thin"), (A2T_12_m, A2T_12_d, "thin"), (A2T_14_m, A2T_14_d, "thin"),
                (A2T_8b_m, A2T_8b_d, "thin"), (A2T_8c_m, A2T_8c_d, "thin"), (A2T_8d_m, A2T_8d_d, "thin")],
         labels=A2T_LABELS),
    dict(box=(688, 1228, 433, 567), dmax=80, title="Arendal  st. 2  Saltholdighet  1993", tpos=(718, 388), ylx=650,
         lines=[(A2S_32_m, A2S_32_d, "thick"), (A2S_30a_m, A2S_30a_d, "thin"), (A2S_28a_m, A2S_28a_d, "thin"),
                (A2S_30s_m, A2S_30s_d, "thin"), (A2S_30b_m, A2S_30b_d, "thin"), (A2S_28b_m, A2S_28b_d, "thin"),
                (A2S_34_m, A2S_34_d, "thin"), (A2S_345a_m, A2S_345a_d, "dash"), (A2S_345b_m, A2S_345b_d, "dash"),
                (A2S_35_m, A2S_35_d, "thick"), (A2S_35t_m, A2S_35t_d, "dash")],
         labels=A2S_LABELS),
    dict(box=(70, 605, 743, 1100), dmax=200, title="ARENDAL  St. 3  Temperatur  1993", tpos=(92, 701), ylx=22,
         lines=[(A3T_4_m, A3T_4_d, "thin"), (A3T_6_m, A3T_6_d, "thin"), (A3T_8_m, A3T_8_d, "thin"),
                (A3T_10_m, A3T_10_d, "thin"), (A3T_12_m, A3T_12_d, "thin"), (A3T_14_m, A3T_14_d, "thin"),
                (A3T_8b_m, A3T_8b_d, "thin"), (A3T_6b_m, A3T_6b_d, "thin")],
         labels=A3T_LABELS),
    dict(box=(688, 1218, 750, 1110), dmax=200, title="ARENDAL  St. 3  Saltholdighet  1993", tpos=(712, 708), ylx=638,
         lines=[(A3S_32_m, A3S_32_d, "thick"), (A3S_30a_m, A3S_30a_d, "thin"), (A3S_28a_m, A3S_28a_d, "thin"),
                (A3S_28b_m, A3S_28b_d, "thin"), (A3S_30b_m, A3S_30b_d, "thin"), (A3S_30c_m, A3S_30c_d, "thin"),
                (A3S_28c_m, A3S_28c_d, "thin"), (A3S_34_m, A3S_34_d, "thin"), (A3S_345_m, A3S_345_d, "dash"),
                (A3S_35_m, A3S_35_d, "thick")],
         labels=A3S_LABELS),
    dict(box=(66, 600, 1193, 1553), dmax=200, title="LISTA  Temperatur  1993", tpos=(82, 1150), ylx=18,
         lines=[(LT_6_m, LT_6_d, "thin"), (LT_8_m, LT_8_d, "thin"), (LT_10a_m, LT_10a_d, "thin"),
                (LT_12a_m, LT_12a_d, "thin"), (LT_12b_m, LT_12b_d, "thin"), (LT_10b_m, LT_10b_d, "thin"),
                (LT_14_m, LT_14_d, "thin"), (LT_8b_m, LT_8b_d, "thin")],
         labels=LT_LABELS),
    dict(box=(680, 1212, 1203, 1557), dmax=200, title="LISTA  Saltholdighet  1993", tpos=(700, 1159), ylx=632,
         lines=[(LS_345_m, LS_345_d, "dash"), (LS_34_m, LS_34_d, "thin"), (LS_32_m, LS_32_d, "thick"),
                (LS_30_m, LS_30_d, "thin"), (LS_35_m, LS_35_d, "thick")],
         labels=LS_LABELS),
]

STYLE = {"thin": dict(lw=0.8, ls="-"), "thick": dict(lw=1.7, ls="-"), "dash": dict(lw=0.8, ls=(0, (7, 4)))}

fig = plt.figure(figsize=(12.46, 15.86), dpi=100)

for p in PANELS:
    l, r, t, b = p["box"]
    ax = fig.add_axes([l / REF_W, 1 - b / REF_H, (r - l) / REF_W, (b - t) / REF_H])
    ax.set_xlim(0, 12)
    ax.set_ylim(p["dmax"], 0)
    yt = list(range(0, p["dmax"] + 1, 20))
    ax.set_yticks(yt)
    ax.set_yticklabels([str(v) for v in yt], fontfamily=SERIF, fontweight="bold", fontsize=12.5)
    ax.tick_params(axis="y", direction="out", length=6, width=1.2, pad=2)
    ax.xaxis.tick_top()
    ax.set_xticks(range(13))
    ax.set_xticklabels([""] * 13)
    ax.set_xticks(np.arange(12) + 0.5, minor=True)
    ax.set_xticklabels(MONTHS, minor=True, fontfamily=SERIF, fontweight="bold", fontsize=11.5)
    ax.tick_params(axis="x", which="major", direction="out", length=10, width=1.0,
                   top=True, bottom=False, labeltop=True, labelbottom=False)
    ax.tick_params(axis="x", which="minor", length=0, pad=0.5,
                   top=True, bottom=False, labeltop=True, labelbottom=False)
    for side, w in (("top", 1.8), ("left", 1.4), ("bottom", 1.4), ("right", 1.0)):
        ax.spines[side].set_linewidth(w)
        ax.spines[side].set_zorder(6)
    for m, d, style in p["lines"]:
        ax.plot(m, d, color="black", solid_joinstyle="round", zorder=2, **STYLE[style])
    for txt, lm, ld in p["labels"]:
        ax.text(lm, ld, txt, ha="center", va="center", fontsize=11.5, family=SANS, zorder=5,
                bbox=dict(boxstyle="square,pad=0.1", fc="white", ec="none"))
    tx, ty = p["tpos"]
    fig.text(tx / REF_W, 1 - ty / REF_H, p["title"], ha="left", va="center",
             fontfamily=SERIF, fontweight="bold", fontsize=14.5)
    fig.text(p["ylx"] / REF_W, 1 - (t + b) / 2 / REF_H, "D Y P ( m )", rotation=90,
             ha="center", va="center", fontfamily=SERIF, fontweight="bold", fontsize=12.5)

fig.savefig("out.png", dpi=100, facecolor="white")
